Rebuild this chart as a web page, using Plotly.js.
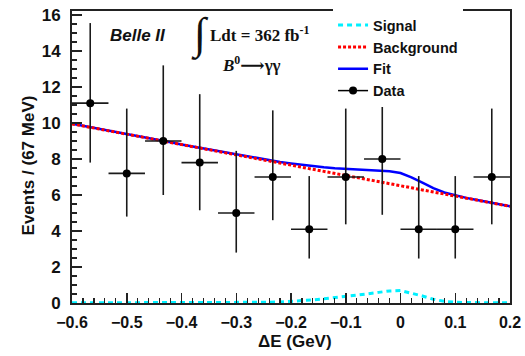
<!DOCTYPE html>
<html>
<head>
<meta charset="utf-8">
<script src="https://cdn.plot.ly/plotly-3.0.1.min.js"></script>
<style>html,body{margin:0;padding:0;background:#fff;}#chart{width:525px;height:356px;}</style>
</head>
<body>
<div id="chart"></div>
<script>
// ---- Data ----
const xData = [-0.5667, -0.5, -0.4333, -0.3667, -0.3, -0.2333, -0.1667, -0.1, -0.0333, 0.0333, 0.1, 0.1667];
const yData = [11.1, 7.2, 9.0, 7.8, 5.0, 7.0, 4.1, 7.0, 8.0, 4.1, 4.1, 7.0];
const errUp = [4.45, 3.6, 4.2, 3.8, 3.45, 3.7, 2.95, 3.8, 3.9, 2.95, 2.95, 3.8];
const errDown = [3.3, 2.4, 3.0, 2.65, 2.2, 2.4, 1.63, 2.63, 3.1, 1.63, 1.63, 2.63];
const binHalfWidth = [0.0333, 0.0333, 0.0333, 0.0333, 0.0333, 0.0333, 0.0333, 0.0333, 0.0333, 0.0333, 0.0333, 0.0333];

const xCurve = [-0.6, -0.58, -0.56, -0.54, -0.52, -0.5, -0.48, -0.46, -0.44, -0.42, -0.4,
  -0.38, -0.36, -0.34, -0.32, -0.3, -0.28, -0.26, -0.24, -0.22, -0.2,
  -0.18, -0.16, -0.14, -0.12, -0.1, -0.08, -0.06, -0.04, -0.02, 0.0,
  0.02, 0.04, 0.06, 0.08, 0.1, 0.12, 0.14, 0.16, 0.18, 0.2];
const background = [9.95, 9.84, 9.72, 9.61, 9.49, 9.38, 9.26, 9.15, 9.03, 8.92, 8.80,
  8.69, 8.57, 8.46, 8.34, 8.23, 8.11, 8.00, 7.88, 7.77, 7.66,
  7.54, 7.43, 7.31, 7.20, 7.08, 6.97, 6.85, 6.74, 6.62, 6.51,
  6.40, 6.28, 6.17, 6.05, 5.94, 5.82, 5.71, 5.59, 5.48, 5.37];
const signal = [0.01, 0.01, 0.01, 0.01, 0.01, 0.01, 0.01, 0.01, 0.01, 0.01, 0.01,
  0.01, 0.01, 0.01, 0.01, 0.01, 0.02, 0.03, 0.04, 0.06, 0.09,
  0.13, 0.17, 0.23, 0.29, 0.36, 0.44, 0.51, 0.59, 0.67, 0.69,
  0.56, 0.39, 0.21, 0.09, 0.04, 0.02, 0.01, 0.01, 0.01, 0.01];
const fit = [9.96, 9.85, 9.73, 9.62, 9.50, 9.39, 9.27, 9.16, 9.04, 8.93, 8.81,
  8.70, 8.58, 8.47, 8.35, 8.24, 8.13, 8.03, 7.92, 7.83, 7.75,
  7.67, 7.60, 7.54, 7.49, 7.46, 7.43, 7.40, 7.37, 7.32, 7.22,
  6.98, 6.68, 6.38, 6.14, 5.98, 5.84, 5.72, 5.60, 5.49, 5.38];

const legendNames = ['Signal', 'Background', 'Fit', 'Data'];
const xTitle = 'ΔE (GeV)';
const yTitle = 'Events / (67 MeV)';

const traces = [
  {x: xCurve, y: signal, mode: 'lines', name: legendNames[0], legendrank: 1,
   line: {color: '#00f0ff', width: 3, dash: '5px,4px'}},
  {x: xCurve, y: fit, mode: 'lines', name: legendNames[2], legendrank: 3,
   line: {color: '#0000ff', width: 2.5}},
  {x: xCurve, y: background, mode: 'lines', name: legendNames[1], legendrank: 2,
   line: {color: '#ff0000', width: 3, dash: '3px,2px'}},
  {x: xData, y: yData, mode: 'markers', name: legendNames[3], legendrank: 4, showlegend: false,
   marker: {color: '#000', size: 8},
   error_y: {type: 'data', symmetric: false, array: errUp, arrayminus: errDown, color: '#1a1a1a', thickness: 1.6, width: 0},
   error_x: {type: 'data', array: binHalfWidth, color: '#1a1a1a', thickness: 1.6, width: 0}},
  {x: [null], y: [null], mode: 'lines+markers', name: legendNames[3], legendrank: 4,
   marker: {color: '#000', size: 8}, line: {color: '#000', width: 1.5}}
];

const layout = {
  width: 525, height: 356,
  margin: {l: 72, r: 15, t: 10, b: 53},
  paper_bgcolor: '#fff', plot_bgcolor: '#fff',
  showlegend: true,
  legend: {x: 0.596, y: 1.003, xanchor: 'left', yanchor: 'top', bgcolor: '#fff', borderwidth: 0,
           font: {family: 'Liberation Sans, Arial, sans-serif', size: 14.5, color: '#111', weight: 700},
           traceorder: 'normal'},
  xaxis: {range: [-0.6, 0.2], tick0: -0.6, dtick: 0.1, ticks: 'inside', ticklen: 10, tickwidth: 1.5,
          tickcolor: '#222', showline: true, mirror: true, linecolor: '#222', linewidth: 2,
          showgrid: false, zeroline: false, ticklabelstandoff: 4,
          minor: {dtick: 0.02, ticks: 'inside', ticklen: 5, tickwidth: 1.2, tickcolor: '#222', showgrid: false},
          tickfont: {family: 'Liberation Sans, Arial, sans-serif', size: 16, color: '#111', weight: 700}},
  yaxis: {range: [0, 16.22], tick0: 0, dtick: 2, ticks: 'inside', ticklen: 10, tickwidth: 1.5,
          tickcolor: '#222', showline: true, mirror: true, linecolor: '#222', linewidth: 2,
          showgrid: false, zeroline: false, ticklabelstandoff: 6,
          minor: {dtick: 0.5, ticks: 'inside', ticklen: 5, tickwidth: 1.2, tickcolor: '#222', showgrid: false},
          tickfont: {family: 'Liberation Sans, Arial, sans-serif', size: 17, color: '#111', weight: 700}},
  annotations: [
    {xref: 'paper', yref: 'paper', x: 0.509, y: -0.133, text: xTitle, showarrow: false,
     xanchor: 'center', yanchor: 'middle', font: {family: 'Liberation Sans, Arial, sans-serif', size: 17, color: '#111', weight: 700}},
    {xref: 'paper', yref: 'paper', x: -0.1005, y: 0.471, text: yTitle, showarrow: false, textangle: -90,
     xanchor: 'center', yanchor: 'middle', font: {family: 'Liberation Sans, Arial, sans-serif', size: 17, color: '#111', weight: 700}},
    {xref: 'paper', yref: 'paper', x: 0.151, y: 0.915, text: '<b><i>Belle II</i></b>', showarrow: false,
     xanchor: 'center', yanchor: 'middle', font: {family: 'Liberation Sans, Arial, sans-serif', size: 17, color: '#111'}},
    {xref: 'paper', yref: 'paper', x: 0.292, y: 0.918, text: '∫', showarrow: false,
     xanchor: 'center', yanchor: 'middle', font: {family: 'Liberation Serif, Times New Roman, serif', size: 44, color: '#111'}},
    {xref: 'paper', yref: 'paper', x: 0.3105, y: 0.922, text: '<b>Ldt = 362 fb<sup>-1</sup></b>', showarrow: false,
     xanchor: 'left', yanchor: 'middle', font: {family: 'Liberation Serif, Times New Roman, serif', size: 17, color: '#111'}},
    {xref: 'paper', yref: 'paper', x: 0.338, y: 0.819, text: '<b><i>B</i><sup>0</sup>⟶γγ</b>', showarrow: false,
     xanchor: 'left', yanchor: 'middle', font: {family: 'Liberation Serif, DejaVu Serif, Times New Roman, serif', size: 17, color: '#111'}}
  ]
};

Plotly.newPlot('chart', traces, layout, {displayModeBar: false, staticPlot: true});
</script>
</body>
</html>
